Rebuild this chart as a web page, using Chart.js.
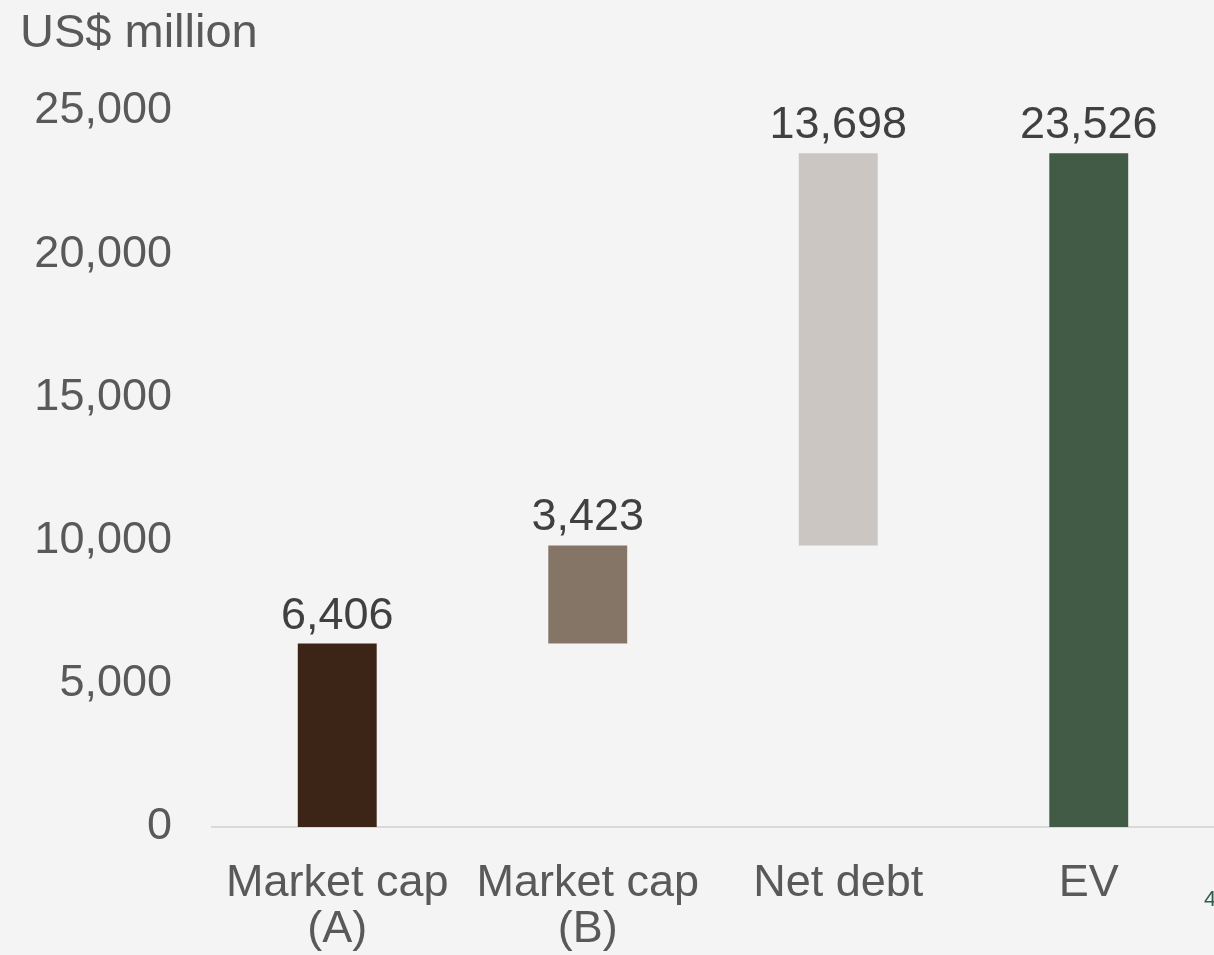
<!DOCTYPE html>
<html>
<head>
<meta charset="utf-8">
<script src="https://cdn.jsdelivr.net/npm/chart.js@4/dist/chart.umd.min.js"></script>
<style>
  html, body { margin: 0; padding: 0; background: #f4f4f4; }
  #wrap { position: relative; width: 1214px; height: 955px; }
</style>
</head>
<body>
<div id="wrap"><canvas id="grafico"></canvas></div>
<script>
// datos
const categorias = [["Market cap", "(A)"], ["Market cap", "(B)"], "Net debt", "EV"];
const inicioBarra = [0, 6406, 9829, 0];
const finBarra = [6406, 9829, 23526, 23526];
const etiquetasValor = [6406, 3423, 13698, 23526];
const marcasEje = [0, 5000, 10000, 15000, 20000, 25000];
const colores = ["#3c2416", "#857566", "#cbc6c2", "#425b46"];

const fuente = "'Liberation Sans', Arial, sans-serif";

const datosBarras = inicioBarra.map((v, i) => [v, finBarra[i]]);

// etiquetas de valor y textos sueltos
const pluginTextos = {
  id: "textos",
  afterDatasetsDraw(chart) {
    const ctx = chart.ctx;
    const meta = chart.getDatasetMeta(0);
    ctx.save();
    ctx.font = "45px " + fuente;
    ctx.fillStyle = "#404040";
    ctx.textAlign = "center";
    ctx.textBaseline = "alphabetic";
    meta.data.forEach((barra, i) => {
      ctx.fillText(etiquetasValor[i].toLocaleString("en-US"), barra.x, barra.y - 15);
    });
    // titulo del eje
    ctx.font = "47px " + fuente;
    ctx.fillStyle = "#595959";
    ctx.textAlign = "left";
    ctx.fillText("US$ million", 20, 47);
    // numero de pagina
    ctx.font = "22px " + fuente;
    ctx.fillStyle = "#2d5f4f";
    ctx.fillText("4", 1204, 906);
    ctx.restore();
  }
};

const ctx = document.getElementById("grafico").getContext("2d");
const miGrafico = new Chart(ctx, {
  type: "bar",
  data: {
    labels: categorias,
    datasets: [
      {
        data: datosBarras,
        backgroundColor: colores,
        borderWidth: 0,
        categoryPercentage: 1,
        barPercentage: 0.315,
      },
    ],
  },
  options: {
    responsive: true,
    maintainAspectRatio: false,
    animation: false,
    layout: { padding: { top: 111, right: 0, left: 0, bottom: 0 } },
    plugins: {
      legend: { display: false },
      tooltip: { enabled: false },
    },
    scales: {
      x: {
        grid: { display: false, drawTicks: false },
        border: { display: true, color: "#d9d9d9", width: 2 },
        ticks: {
          color: "#595959",
          font: { family: fuente, size: 45, lineHeight: 1.03 },
          padding: 33,
          maxRotation: 0,
          autoSkip: false,
        },
        afterFit: (scale) => { scale.height = 128; },
      },
      y: {
        min: 0,
        max: 25000,
        grid: { display: false, drawTicks: false },
        border: { display: false },
        afterBuildTicks: (scale) => { scale.ticks = marcasEje.map(v => ({ value: v })); },
        ticks: {
          color: "#595959",
          font: { family: fuente, size: 45 },
          padding: 40,
          callback: (v) => v.toLocaleString("en-US"),
        },
        afterFit: (scale) => { scale.width = 212; },
      },
    },
  },
  plugins: [pluginTextos],
});
</script>
</body>
</html>
